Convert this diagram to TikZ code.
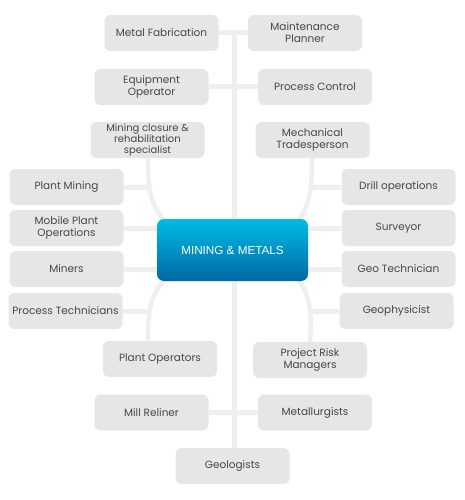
\documentclass[tikz,border=0pt]{standalone}
\usepackage{fontspec}
\setmainfont{Poppins}
\newfontfamily\centerfont{Liberation Sans}
\definecolor{boxgray}{HTML}{E6E6E6}
\definecolor{conngray}{HTML}{EFEFEF}
\definecolor{txtgray}{HTML}{474747}
\definecolor{cyantop}{HTML}{00BCE4}
\definecolor{bluebot}{HTML}{0068A6}
\begin{document}
\begin{tikzpicture}[x=1pt,y=-1pt,
  rolebox/.style={rounded corners=6pt,fill=boxgray,minimum width=114pt,minimum height=36pt,
    align=center,inner sep=1pt,text=txtgray,font=\fontsize{10.5}{12}\selectfont},
  centerbox/.style={rounded corners=7pt,top color=cyantop,bottom color=bluebot,
    minimum width=151pt,minimum height=62pt,text=white,font=\centerfont\fontsize{11.7}{13}\selectfont},
  conn/.style={draw=conngray,line width=5pt},
  arcline/.style={draw=conngray,line width=4.5pt}]
\useasboundingbox (0,0) rectangle (465,500);
% gray boxes
\node[rolebox] (mf) at (161.5,33) {Metal Fabrication};
\node[rolebox] (mp) at (305,33) {Maintenance\\Planner};
\node[rolebox] (eo) at (151.5,87) {Equipment\\Operator};
\node[rolebox] (pc) at (315,87) {Process Control};
\node[rolebox,font=\fontsize{10}{11}\selectfont] (mc) at (147.5,140) {Mining closure \&\\rehabilitation\\specialist};
\node[rolebox] (mt) at (312.5,140) {Mechanical\\Tradesperson};
\node[rolebox] (pm) at (66.5,187) {Plant Mining};
\node[rolebox] (mpo) at (66.5,228) {Mobile Plant\\Operations};
\node[rolebox] (mi) at (66.5,269) {Miners};
\node[rolebox] (pt) at (65.5,311) {Process Technicians};
\node[rolebox] (do) at (398.5,187) {Drill operations};
\node[rolebox] (su) at (398.5,228) {Surveyor};
\node[rolebox] (gt) at (398.5,269) {Geo Technician};
\node[rolebox] (gp) at (396.5,311) {Geophysicist};
\node[rolebox] (po) at (160,359) {Plant Operators};
\node[rolebox] (pr) at (310,360) {Project Risk\\Managers};
\node[rolebox] (mr) at (151.5,412.5) {Mill Reliner};
\node[rolebox] (me) at (315,412.5) {Metallurgists};
\node[rolebox] (ge) at (232.5,466) {Geologists};
% connector end points
\coordinate (spinetop) at (234,33);
\coordinate (la) at (148,158);
\coordinate (lb) at (148,342);
\coordinate (ra) at (312,158);
\coordinate (rb) at (310,342);
\coordinate (lat) at (166,222);
\coordinate (lbt) at (166,278);
\coordinate (rat) at (297,222);
\coordinate (rbt) at (297,278);
\coordinate (pmend) at (149,187);
\coordinate (ptend) at (149,311);
\coordinate (doend) at (311,187);
\coordinate (gpend) at (311,311);
% connectors
\path[conn] (spinetop) -- (spinetop |- ge.north);
\path[conn] (mf.east) -- (mp.west);
\path[conn] (eo.east) -- (pc.west);
\path[conn] (mr.east) -- (me.west);
\path[arcline] (la) .. controls (148,190) and (150,205) .. (lat);
\path[arcline] (lbt) .. controls (150,295) and (148,310) .. (lb);
\path[arcline] (ra) .. controls (312,190) and (310,205) .. (rat);
\path[arcline] (rbt) .. controls (310,295) and (312,310) .. (rb);
\path[conn] (pm.east) -- (pmend);
\path[conn] (pt.east) -- (ptend);
\path[conn] (do.west) -- (doend);
\path[conn] (gp.west) -- (gpend);
\path[conn] (mpo.east) -- (su.west);
\path[conn] (mi.east) -- (gt.west);
% central node
\node[centerbox] (cen) at (232.5,250) {MINING \& METALS};
\end{tikzpicture}
\end{document}
